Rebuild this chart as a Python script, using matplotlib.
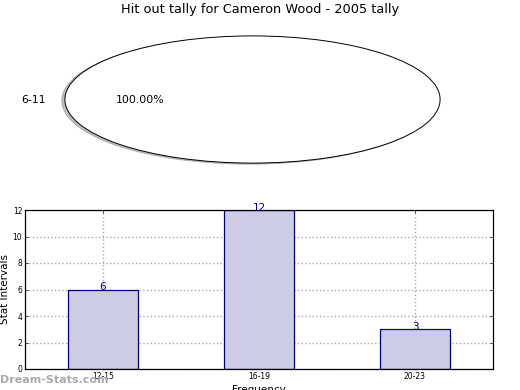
import matplotlib
matplotlib.use("Agg")
import matplotlib.pyplot as plt

title = "Hit out tally for Cameron Wood - 2005 tally"
pie_labels = ["6-11"]
pie_values = [100.0]

bar_labels = ["12-15", "16-19", "20-23"]
bar_values = [6, 12, 3]
yticks = [0, 2, 4, 6, 8, 10, 12]

fig = plt.figure(figsize=(5.2, 3.9), dpi=100)

# Pie axes (stretched ellipse)
axp = fig.add_axes([18/520, 211/390, 469/520, 159/390])
wedges, texts, autotexts = axp.pie(pie_values, labels=pie_labels, autopct="%1.2f%%",
                                   shadow={"ox": -0.012, "oy": -0.012, "shade": 0.5},
                                   colors=["white"],
                                   wedgeprops=dict(edgecolor="black", linewidth=0.7),
                                   textprops=dict(fontsize=7.8))
axp.set_aspect("auto")
axp.set_xlim(-1.25, 1.25)
axp.set_ylim(-1.25, 1.25)
axp.axis("off")

fig.text(0.5, 1 - 10/390, title, ha="center", va="center", fontsize=9.3)

# Bar axes
ax = fig.add_axes([25/520, 21/390, 468/520, 159/390])
x = list(range(len(bar_labels)))
bars = ax.bar(x, bar_values, width=0.45, color="#ccccE4", edgecolor="#000080", linewidth=0.9, zorder=2)
for xi, v in zip(x, bar_values):
    ax.annotate(str(v), (xi, v), xytext=(0, -2), textcoords="offset points",
                ha="center", va="bottom", fontsize=7.5, color="#000080")
ax.set_xlim(-0.5, 2.5)
ax.set_ylim(0, 12)
ax.set_xticks(x)
ax.set_xticklabels(bar_labels, fontsize=5.5)
ax.set_yticks(yticks)
ax.set_yticklabels([str(t) for t in yticks], fontsize=5.5)
ax.tick_params(direction="in", top=True, right=True, length=2, width=0.5, pad=2)
ax.grid(True, linestyle=":", color="#aaaaaa", linewidth=1, zorder=0)
ax.set_axisbelow(True)
for s in ax.spines.values():
    s.set_linewidth(0.9)
ax.set_ylabel("Stat Intervals", fontsize=7.5, labelpad=2)
ax.set_xlabel("Frequency", fontsize=7.5, labelpad=3)

fig.text(0, 10/390, "Dream-Stats.com", ha="left", va="center", fontsize=8,
         color="#aaaaaa", fontweight="bold")

fig.savefig("out.png", dpi=100)
